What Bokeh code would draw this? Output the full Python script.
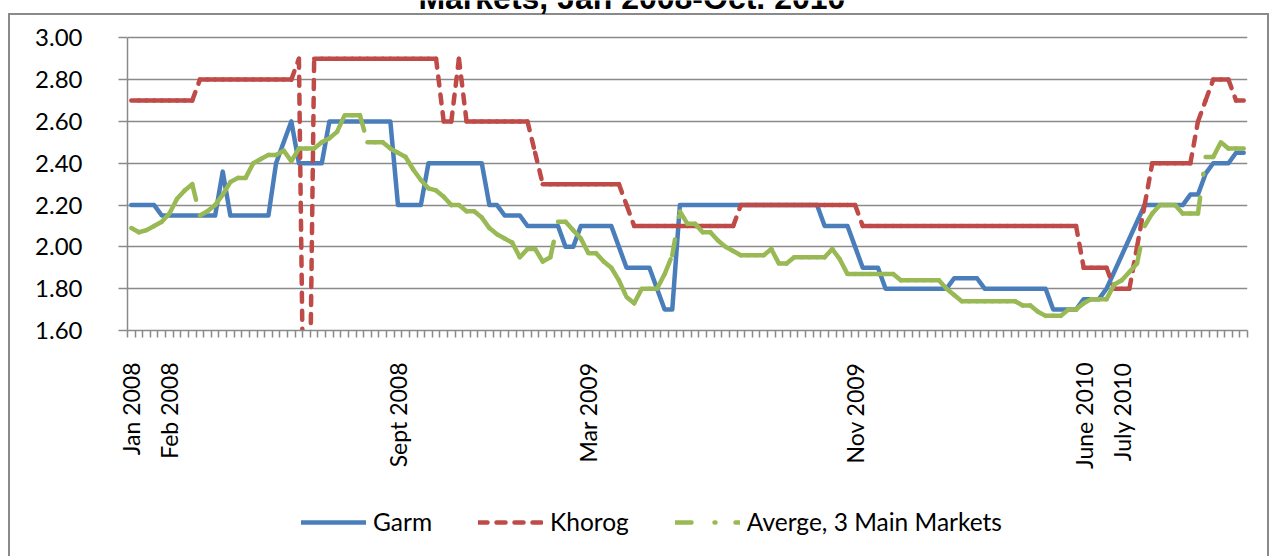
import math
from bokeh.plotting import figure
from bokeh.layouts import column
from bokeh.models import (FixedTicker, Legend, LegendItem, Label,
                          ColumnDataSource, NumeralTickFormatter, Range1d)
from bokeh.embed import file_html
from bokeh.resources import INLINE

# ---------------- data: weekly prices, Jan 2008 - Oct 2010 ----------------
garm = [2.20, 2.20, 2.20, 2.20, 2.15, 2.15, 2.15, 2.15, 2.15, 2.15, 2.15, 2.15,
        2.36, 2.15, 2.15, 2.15, 2.15, 2.15, 2.15, 2.40, 2.50, 2.60, 2.40, 2.40,
        2.40, 2.40, 2.60, 2.60, 2.60, 2.60, 2.60, 2.60, 2.60, 2.60, 2.60, 2.20,
        2.20, 2.20, 2.20, 2.40, 2.40, 2.40, 2.40, 2.40, 2.40, 2.40, 2.40, 2.20,
        2.20, 2.15, 2.15, 2.15, 2.10, 2.10, 2.10, 2.10, 2.10, 2.00, 2.00, 2.10,
        2.10, 2.10, 2.10, 2.10, 2.00, 1.90, 1.90, 1.90, 1.90, 1.80, 1.70, 1.70,
        2.20, 2.20, 2.20, 2.20, 2.20, 2.20, 2.20, 2.20, 2.20, 2.20, 2.20, 2.20,
        2.20, 2.20, 2.20, 2.20, 2.20, 2.20, 2.20, 2.10, 2.10, 2.10, 2.10, 2.00,
        1.90, 1.90, 1.90, 1.80, 1.80, 1.80, 1.80, 1.80, 1.80, 1.80, 1.80, 1.80,
        1.85, 1.85, 1.85, 1.85, 1.80, 1.80, 1.80, 1.80, 1.80, 1.80, 1.80, 1.80,
        1.80, 1.70, 1.70, 1.70, 1.70, 1.75, 1.75, 1.75, 1.80, 1.88, 1.96, 2.04,
        2.12, 2.20, 2.20, 2.20, 2.20, 2.20, 2.20, 2.25, 2.25, 2.35, 2.40, 2.40,
        2.40, 2.45, 2.45]

khorog = [2.70, 2.70, 2.70, 2.70, 2.70, 2.70, 2.70, 2.70, 2.70, 2.80, 2.80, 2.80,
          2.80, 2.80, 2.80, 2.80, 2.80, 2.80, 2.80, 2.80, 2.80, 2.80, 2.90, 0.00,
          2.90, 2.90, 2.90, 2.90, 2.90, 2.90, 2.90, 2.90, 2.90, 2.90, 2.90, 2.90,
          2.90, 2.90, 2.90, 2.90, 2.90, 2.60, 2.60, 2.90, 2.60, 2.60, 2.60, 2.60,
          2.60, 2.60, 2.60, 2.60, 2.60, 2.45, 2.30, 2.30, 2.30, 2.30, 2.30, 2.30,
          2.30, 2.30, 2.30, 2.30, 2.30, 2.20, 2.10, 2.10, 2.10, 2.10, 2.10, 2.10,
          2.10, 2.10, 2.10, 2.10, 2.10, 2.10, 2.10, 2.10, 2.20, 2.20, 2.20, 2.20,
          2.20, 2.20, 2.20, 2.20, 2.20, 2.20, 2.20, 2.20, 2.20, 2.20, 2.20, 2.20,
          2.10, 2.10, 2.10, 2.10, 2.10, 2.10, 2.10, 2.10, 2.10, 2.10, 2.10, 2.10,
          2.10, 2.10, 2.10, 2.10, 2.10, 2.10, 2.10, 2.10, 2.10, 2.10, 2.10, 2.10,
          2.10, 2.10, 2.10, 2.10, 2.10, 1.90, 1.90, 1.90, 1.90, 1.80, 1.80, 1.80,
          2.00, 2.20, 2.40, 2.40, 2.40, 2.40, 2.40, 2.40, 2.60, 2.70, 2.80, 2.80,
          2.80, 2.70, 2.70]

average = [2.09, 2.07, 2.08, 2.10, 2.12, 2.16, 2.23, 2.27, 2.30, 2.15, 2.17, 2.20,
           2.25, 2.31, 2.33, 2.33, 2.40, 2.42, 2.44, 2.44, 2.46, 2.41, 2.47, 2.47,
           2.47, 2.50, 2.52, 2.55, 2.63, 2.63, 2.63, 2.50, 2.50, 2.50, 2.47, 2.45,
           2.43, 2.37, 2.32, 2.28, 2.27, 2.24, 2.20, 2.20, 2.17, 2.17, 2.14, 2.09,
           2.06, 2.04, 2.02, 1.95, 1.99, 1.99, 1.93, 1.95, 2.12, 2.12, 2.08, 2.04,
           1.97, 1.97, 1.93, 1.90, 1.84, 1.76, 1.73, 1.80, 1.80, 1.80, 1.87, 1.96,
           2.17, 2.11, 2.11, 2.07, 2.07, 2.03, 2.00, 1.98, 1.96, 1.96, 1.96, 1.96,
           1.99, 1.92, 1.92, 1.95, 1.95, 1.95, 1.95, 1.95, 1.99, 1.94, 1.87, 1.87,
           1.87, 1.87, 1.87, 1.87, 1.87, 1.84, 1.84, 1.84, 1.84, 1.84, 1.84, 1.80,
           1.77, 1.74, 1.74, 1.74, 1.74, 1.74, 1.74, 1.74, 1.74, 1.72, 1.72, 1.69,
           1.67, 1.67, 1.67, 1.70, 1.70, 1.73, 1.75, 1.75, 1.75, 1.82, 1.84, 1.88,
           1.92, 2.10, 2.16, 2.20, 2.20, 2.20, 2.16, 2.16, 2.16, 2.43, 2.43, 2.50,
           2.47, 2.47, 2.47]

date_label_pos = [0, 5, 35, 60, 95, 125, 130]
date_labels = ["Jan 2008", "Feb 2008", "Sept 2008", "Mar 2009", "Nov 2009",
               "June 2010", "July 2010"]
y_ticks = [1.60, 1.80, 2.00, 2.20, 2.40, 2.60, 2.80, 3.00]
series_names = ["Garm", "Khorog", "Averge, 3 Main Markets"]
title_text = "Markets, Jan 2008-Oct. 2010"

# ---------------- styling ----------------
BLUE = "#4a7ebb"
RED = "#be4b48"
GREEN = "#98b954"
GRID = "#8a8a8a"
FONT = "Lato"
LW = 4.5
RED_DASH = "9 9"
GREEN_DASH = "16 23 1 20"
line_img = "linear-gradient(#8a8a8a, #8a8a8a)"

n = len(garm)
idx = list(range(n))

# ---------------- main chart ----------------
# frame reaches the top of the canvas so that the cut-off title fits in it;
# the y axis itself is bounded to 1.60 - 3.00
p = figure(width=1272, height=490, output_backend="svg", toolbar_location=None,
           x_range=Range1d(-0.5, n - 0.5), y_range=Range1d(1.6, 3.1784),
           min_border_left=127, min_border_right=25, min_border_top=0,
           min_border_bottom=160)
p.outline_line_color = None
p.background_fill_color = None
p.border_fill_color = None
p.styles = {
    "background": (f"{line_img} 8px 13px / 1261px 2px no-repeat, "
                   f"{line_img} 8px 13px / 2px 600px no-repeat, "
                   f"{line_img} 1267px 13px / 2px 600px no-repeat, #ffffff")
}

p.xgrid.visible = False
p.ygrid.ticker = FixedTicker(ticks=y_ticks)
p.ygrid.grid_line_color = GRID
p.ygrid.grid_line_width = 1.5

p.yaxis.ticker = FixedTicker(ticks=y_ticks)
p.yaxis.bounds = (1.6, 3.0)
p.yaxis.formatter = NumeralTickFormatter(format="0.00")
p.yaxis.axis_line_color = GRID
p.yaxis.axis_line_width = 1.5
p.yaxis.major_tick_line_color = GRID
p.yaxis.major_tick_line_width = 1.5
p.yaxis.major_tick_out = 9
p.yaxis.major_tick_in = 0
p.yaxis.minor_tick_line_color = None
p.yaxis.major_label_standoff = 36
p.yaxis.major_label_text_font = FONT
p.yaxis.major_label_text_font_size = "24px"
p.yaxis.major_label_text_color = "black"

p.xaxis.ticker = FixedTicker(ticks=date_label_pos,
                             minor_ticks=[i - 0.5 for i in range(n + 1)])
p.xaxis.major_label_overrides = {k: v for k, v in zip(date_label_pos, date_labels)}
p.xaxis.axis_line_color = GRID
p.xaxis.axis_line_width = 1.5
p.xaxis.major_tick_line_color = None
p.xaxis.major_tick_out = 0
p.xaxis.major_tick_in = 0
p.xaxis.minor_tick_line_color = GRID
p.xaxis.minor_tick_line_width = 1.5
p.xaxis.minor_tick_out = 7
p.xaxis.minor_tick_in = 0
p.xaxis.major_label_orientation = math.pi / 2
p.xaxis.major_label_standoff = 25
p.xaxis.major_label_text_font = FONT
p.xaxis.major_label_text_font_size = "23px"
p.xaxis.major_label_text_color = "black"

src = ColumnDataSource(dict(x=idx, garm=garm, khorog=khorog, average=average))
p.line("x", "garm", source=src, line_color=BLUE, line_width=LW,
       line_join="round", line_cap="round")

# Excel restarts the dash pattern on every segment: draw each one separately
seg_k = ColumnDataSource(dict(x0=idx[:-1], x1=idx[1:], y0=khorog[:-1], y1=khorog[1:]))
p.segment("x0", "y0", "x1", "y1", source=seg_k, line_color=RED,
          line_width=LW, line_dash=RED_DASH, line_cap="round")

seg_a = ColumnDataSource(dict(x0=idx[:-1], x1=idx[1:], y0=average[:-1], y1=average[1:]))
p.segment("x0", "y0", "x1", "y1", source=seg_a, line_color=GREEN,
          line_width=LW, line_dash=GREEN_DASH, line_cap="round")

p.add_layout(Label(x=65.7, y=3.188, text=title_text, text_align="center",
                   text_baseline="alphabetic", text_font="Liberation Sans",
                   text_font_style="bold", text_font_size="32px",
                   text_color="black"))

# ---------------- legend strip below the chart ----------------
q = figure(width=1272, height=66, output_backend="svg", toolbar_location=None,
           x_range=Range1d(-0.5, n - 0.5), y_range=Range1d(10, 11),
           min_border_left=0, min_border_right=0, min_border_top=0,
           min_border_bottom=0)
q.axis.visible = False
q.grid.visible = False
q.outline_line_color = None
q.background_fill_color = None
q.border_fill_color = None
q.styles = {
    "background": (f"{line_img} 8px 0px / 2px 100% no-repeat, "
                   f"{line_img} 1267px 0px / 2px 100% no-repeat, #ffffff")
}
# same series (outside this strip's y range, so only their legend samples show)
lg_garm = q.line("x", "garm", source=src, line_color=BLUE, line_width=LW,
                 line_cap="round")
lg_khorog = q.line("x", "khorog", source=src, line_color=RED, line_width=LW,
                   line_dash=RED_DASH, line_cap="round")
lg_avg = q.line("x", "average", source=src, line_color=GREEN, line_width=LW,
                line_dash=GREEN_DASH, line_cap="round")

legend = Legend(items=[LegendItem(label=series_names[0], renderers=[lg_garm]),
                       LegendItem(label=series_names[1], renderers=[lg_khorog]),
                       LegendItem(label=series_names[2], renderers=[lg_avg])],
                orientation="horizontal", location=(174, 20),
                glyph_width=65, glyph_height=20, label_standoff=7, spacing=46,
                padding=0, margin=0, border_line_color=None,
                background_fill_alpha=0, label_text_font=FONT,
                label_text_font_size="24.5px", label_text_color="black",
                label_height=20)
q.add_layout(legend)

layout = column(p, q, spacing=0)
open("out.html", "w").write(file_html(layout, INLINE))
